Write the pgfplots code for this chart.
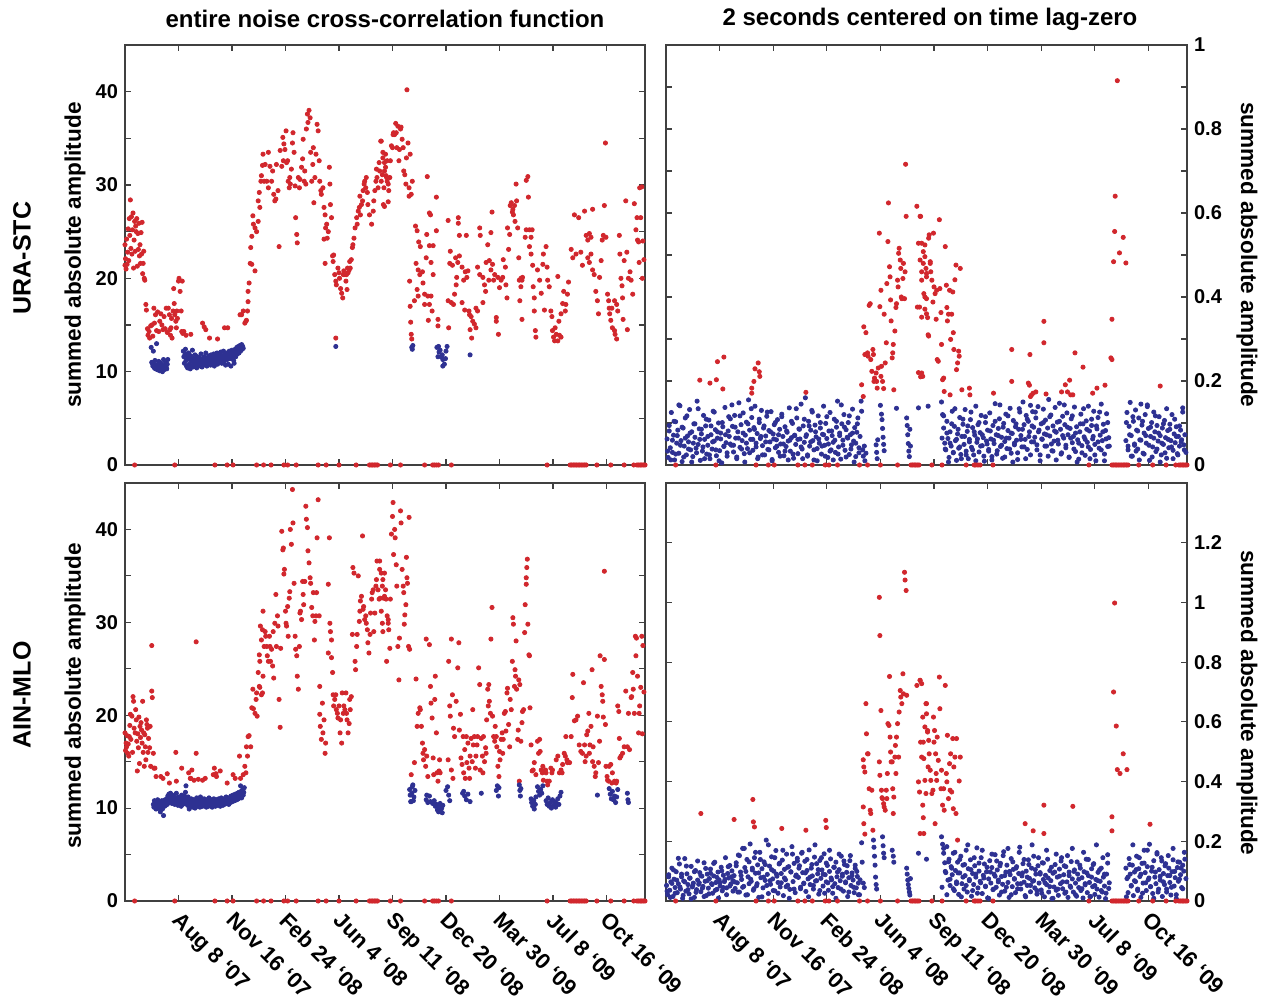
\documentclass[border=0pt]{standalone}
\usepackage{fontspec}
\setmainfont{Liberation Sans}
\usepackage{pgfplots}
\usepackage{pgfplotstable}
\pgfplotsset{compat=1.18}
\definecolor{ptred}{HTML}{D1272D}
\definecolor{ptblue}{HTML}{2E3192}
\definecolor{axgray}{HTML}{404040}
\pgfplotsset{
 panel/.style={scale only axis,anchor=south west,xmin=-100,xmax=872,
  xtick={0,100,...,800},xticklabels={},tick align=inside,xtick pos=both,ytick pos=both,
  major tick length=3pt,axis line style={line width=0.8pt,axgray},
  every tick/.style={line width=0.6pt,axgray},
  tick label style={font=\fontsize{10}{12}\selectfont\bfseries}},
 redpts/.style={only marks,mark=*,mark size=1.05pt,mark options={draw=none,fill=ptred},ptred},
 bluepts/.style={only marks,mark=*,mark size=1.05pt,mark options={draw=none,fill=ptblue},ptblue},
 dates/.style={xticklabels={Aug 8 `07,Nov 16 `07,Feb 24 `08,Jun 4 `08,Sep 11 `08,Dec 20 `08,Mar 30 `09,Jul 8 `09,Oct 16 `09},
  xticklabel style={rotate=-45,anchor=north west,xshift=1.5pt,yshift=1.5pt,font=\fontsize{11}{13}\selectfont\bfseries}},
 leftY/.style={ymin=0,ymax=45,ytick={0,5,...,40},yticklabels={0,,10,,20,,30,,40}}
}
% days with no signal (plotted at zero in every panel)
\pgfplotstableread{
d v
-82 0
-7 0
68 0
91 0
102 0
146 0
159 0
173 0
197 0
204 0
220 0
261 0
276 0
300 0
332 0
357 0
360 0
363 0
366 0
369 0
372 0
396 0
415 0
460 0
475 0
478 0
482 0
486 0
510 0
689 0
732 0
735 0
738 0
741 0
744 0
747 0
750 0
753 0
756 0
759 0
762 0
782 0
808 0
833 0
851 0
857 0
860 0
863 0
866 0
869 0
872 0
}\zerotab

\begin{document}
\begin{tikzpicture}
\path[use as bounding box] (0,0) rectangle (633pt,501pt);

% ---------- top left: URA-STC, entire function
\begin{axis}[panel,leftY,at={(62.5pt,268.5pt)},width=260pt,height=210pt]
\addplot[redpts] coordinates {(-100,23.6)(-100,21.4)(-99,22.1)(-98,21.0)(-97,24.2)(-96,21.5)(-95,22.8)(-94,25.3)(-93,21.9)(-92,26.4)(-91,24.6)(-90,28.4)(-89,23.2)(-88,26.6)(-87,22.6)(-86,25.2)(-85,27.0)(-84,21.1)(-83,24.1)(-82,26.1)(-81,22.9)(-80,25.6)(-79,25.0)(-78,26.4)(-77,21.3)(-76,24.8)(-75,23.1)(-74,25.9)(-73,22.4)(-72,23.6)(-71,21.6)(-70,24.9)(-69,22.6)(-68,26.0)(-67,20.5)(-66,21.6)(-65,22.9)(-64,20.0)(-63,19.8)(-61,17.2)(-60,16.6)(-58,14.6)(-57,13.9)(-55,14.3)(-54,13.6)(-52,14.9)(-50,15.0)(-48,13.8)(-46,16.8)(-45,15.2)(-43,16.1)(-41,14.4)(-39,16.4)(-37,14.3)(-35,15.4)(-33,16.2)(-31,15.0)(-29,14.5)(-27,15.9)(-25,14.6)(-23,16.8)(-21,14.2)(-19,16.8)(-17,16.1)(-16,14.5)(-15,13.9)(-14,14.7)(-13,15.7)(-12,13.6)(-10,16.5)(-9,18.9)(-8,17.3)(-7,16.1)(-5,15.4)(-4,14.7)(-3,16.5)(-2,15.7)(0,19.7)(1,20.0)(3,18.6)(5,16.5)(6,14.3)(7,19.7)(8,14.1)(10,14.3)(14,13.9)(23,14.0)(45,15.2)(48,14.8)(51,14.5)(58,13.6)(73,13.5)(86,14.7)(92,14.7)(115,16.1)(118,16.1)(121,16.5)(124,15.2)(126,15.4)(127,15.5)(129,16.5)(130,17.5)
(130,18.6)(132,19.5)(134,21.6)(137,21.5)(143,20.8)(135,23.3)(137,24.5)(139,26.7)(140,25.8)(143,25.4)(146,25.0)(149,26.1)(152,27.6)(151,29.2)(149,28.3)(154,30.4)(155,31.0)(157,32.1)(158,33.3)(160,30.4)
(162,32.2)(165,30.4)(168,29.7)(168,33.5)(171,32.0)(174,30.4)(176,31.5)(178,29.0)(180,28.3)(182,28.5)(183,32.2)(186,29.4)(188,23.4)(190,33.7)(193,32.0)(196,32.6)(199,33.8)(202,32.4)(204,32.6)(195,35.1)(197,34.4)(201,35.8)(205,30.4)(207,29.7)(208,30.8)(209,30.1)(211,31.7)(213,34.5)(214,35.6)(216,33.5)(218,29.9)(219,26.5)(221,24.7)(222,23.8)(224,30.8)(226,29.7)(227,30.6)(230,31.9)(232,32.8)(233,34.9)(235,30.4)(236,31.5)(238,30.1)(239,36.0)(241,37.6)(242,36.7)(244,38.0)(246,37.2)(247,33.5)(249,30.4)(251,32.2)(252,34.0)(253,28.1)(255,30.8)(257,33.3)(259,36.5)(261,35.8)(263,32.6)(264,30.4)(266,29.4)
(267,29.0)(270,29.7)(272,27.6)(274,26.8)(275,25.4)(277,25.8)(278,24.3)(280,25.0)(282,31.9)(283,30.1)(284,27.9)(286,26.5)(288,22.4)(272,24.2)(274,21.6)(289,21.8)(290,22.5)(292,20.4)(294,19.7)(295,19.3)(294,13.6)
(298,21.1)(300,20.6)(301,20.0)(303,18.9)(305,18.4)(307,17.9)(308,20.4)(309,20.8)(311,20.4)(313,19.7)(314,20.4)(316,21.1)(317,20.6)(319,20.9)(320,21.8)(315,18.8)(321,21.1)(323,22.0)(325,23.3)
(326,23.6)(328,24.3)(330,25.4)(333,26.5)(334,25.8)(336,27.2)(338,27.6)(339,28.8)(340,26.8)(342,27.9)(344,28.3)(345,29.4)(347,30.1)(348,30.4)(350,29.7)(351,30.8)(353,29.2)(354,27.9)(357,26.8)(361,25.8)(364,27.2)(365,28.3)(367,29.4)(369,30.4)(370,31.7)(371,30.8)(373,29.7)(375,32.4)(376,31.5)(378,34.7)(379,30.4)(381,31.1)(382,32.9)(384,29.7)(385,31.5)(387,33.3)(389,30.8)(390,32.6)
(379,34.7)(382,33.5)(385,32.4)(387,31.9)(388,31.0)(390,30.4)(392,30.1)(383,27.9)(385,27.7)(392,28.2)(393,29.4)(395,30.8)(396,32.6)(398,34.2)(400,34.0)(401,35.4)(402,35.6)(404,35.4)(406,36.6)(407,35.6)(408,34.0)(410,36.3)(412,32.6)(413,33.8)(415,36.0)(416,36.2)(418,34.9)(420,34.0)(421,31.5)(423,31.1)(425,30.1)(426,32.9)(427,40.2)(429,34.5)(431,29.7)(431,28.8)(433,33.3)(435,29.0)(437,30.4)
(432,19.7)(433,17.0)(434,15.3)(435,14.0)(436,13.5)
(443,25.6)(446,25.1)(449,23.9)(452,23.4)(444,21.6)(448,20.9)(456,20.7)(451,20.4)(446,18.8)(448,18.1)(457,19.5)(441,17.6)
(465,30.9)(469,27.0)(471,26.8)(464,24.7)(469,23.5)(476,23.5)(463,22.2)(472,21.7)(476,20.4)(460,18.3)(466,18.1)(472,18.1)(460,17.2)(469,17.2)(474,16.5)(482,28.7)(482,25.1)(485,15.6)(485,14.9)(467,15.5)
(504,26.2)(523,26.5)(523,25.9)(508,22.9)(525,24.6)(507,21.6)(512,21.4)(518,22.2)(522,21.7)(525,22.4)(504,17.6)(510,17.4)(516,18.3)(519,19.3)(520,20.1)(514,17.2)(505,14.7)(538,24.6)(530,21.2)(533,19.8)(536,20.7)(530,17.4)(535,16.6)(541,20.8)(539,20.1)(543,16.5)(544,16.1)(547,15.9)(550,15.4)(545,14.5)(553,15.1)(548,13.6)(556,16.8)(556,14.7)(559,16.5)
(563,25.4)(564,24.6)(559,21.2)(563,20.4)(569,20.1)(572,19.3)(574,18.6)(569,17.4)(575,21.7)(578,23.6)(581,21.9)(584,24.9)(586,27.1)(580,19.8)(584,20.9)(587,21.5)(591,20.4)(589,19.8)(594,15.4)(594,15.8)(597,20.1)(598,14.0)(600,19.0)(603,19.8)(606,20.1)(607,22.0)(611,21.2)(612,19.3)(614,17.9)(615,25.4)(617,23.1)(619,24.7)(620,27.8)(622,28.1)(624,27.1)(625,27.4)(626,26.8)(628,27.8)(629,26.1)(631,30.1)(632,28.3)(634,25.4)(636,22.2)(637,19.8)(638,17.6)(640,20.0)(642,15.6)
(650,30.5)(653,30.9)(654,28.7)(648,24.4)(650,25.2)(656,25.2)(659,24.4)(656,23.4)(659,22.6)(661,25.2)(643,20.1)(642,19.8)(640,19.1)(662,21.4)(663,19.1)(665,17.9)(665,16.5)(667,14.4)(668,13.7)(671,20.9)(675,19.8)(678,18.4)(681,21.5)(682,22.6)(684,16.6)(687,23.4)(689,21.2)(690,19.8)(693,19.1)
(696,16.5)(698,15.9)(699,14.4)(701,13.7)(703,13.3)(704,14.7)(706,14.0)(709,13.3)(711,15.4)(712,13.9)(715,13.7)(709,20.2)(715,16.2)(718,17.3)(720,18.6)(723,16.5)(724,17.2)(727,18.3)(729,19.6)
(734,23.1)(737,22.2)(740,26.8)(743,22.6)(748,26.5)(752,22.8)(755,21.4)(759,27.2)(762,24.6)
(765,24.1)(768,24.8)(771,24.4)(774,27.4)(771,22.6)(765,22.2)(768,21.7)(774,20.9)(777,20.4)(780,18.6)(783,17.6)(785,16.2)(787,20.1)(790,21.9)(792,24.1)(794,24.6)(796,27.8)(798,34.5)(799,24.4)(802,18.3)(804,17.6)(805,16.8)(806,16.2)(808,15.5)(811,14.7)(815,14.4)(816,14.0)(819,13.5)(810,16.8)(815,17.6)(819,17.2)(821,16.5)(824,24.6)(825,22.6)(827,20.0)(829,19.2)(830,17.9)(831,15.6)(833,21.9)(836,28.3)(838,22.8)(839,14.5)(841,20.0)(844,20.7)(846,19.8)(849,18.3)(852,28.0)(855,25.2)(857,26.5)(858,24.1)(860,23.9)(861,21.7)(862,29.7)(866,29.8)(868,24.0)(870,22.0)(864,26.5)(867,20.0)};
\addplot[bluepts] coordinates {(-51,12.6)(-50,11.0)(-49,10.9)(-48,10.6)(-47,12.2)(-46,10.8)(-45,10.4)(-44,11.2)(-43,10.3)(-42,10.7)(-41,13.0)(-40,10.5)(-39,10.2)(-38,10.8)(-37,11.1)(-36,10.4)(-35,10.1)(-34,10.6)(-33,10.9)(-32,10.3)(-31,10.5)(-30,10.0)(-29,10.7)(-28,11.3)(-27,10.2)(-26,10.6)(-25,10.4)(-24,11.0)(-23,10.5)(-22,10.3)(-21,10.8)(-20,11.3)
(9,12.2)(10,11.6)(11,10.9)(12,11.8)(13,12.4)(14,11.2)(15,10.6)(16,11.9)(17,10.4)(18,11.5)(19,12.0)(20,10.8)(21,11.3)(22,10.3)(23,11.7)(24,10.6)(25,11.1)(26,12.3)(27,10.5)(28,11.4)(29,10.9)(30,11.0)(31,11.8)(32,10.7)(33,11.2)(34,10.4)(35,11.6)(36,10.9)(37,11.3)(38,10.6)(39,11.5)(40,11.0)(41,10.8)(42,11.9)(43,11.2)(44,10.5)(45,11.4)(46,11.1)(47,10.7)(48,11.6)(49,11.3)(50,10.9)(51,12.0)(52,11.1)(53,10.6)(54,11.5)(55,11.2)(56,10.8)(57,11.7)(58,11.0)(59,11.4)(60,10.7)(61,11.8)(62,11.2)(63,10.9)(64,11.5)(65,11.1)(66,11.9)(67,10.6)(68,11.4)(69,11.7)(70,11.0)(71,11.3)(72,12.0)(73,10.8)(74,11.6)(75,11.2)(76,11.9)(77,11.0)(78,11.5)(79,12.1)(80,11.3)(81,10.9)(82,11.7)(83,11.4)(84,12.2)(85,11.1)(86,11.6)(87,11.9)(88,10.7)(89,11.5)(90,12.0)(91,11.3)(92,11.8)(93,10.8)(94,11.6)(95,12.2)(96,11.4)(97,11.9)(98,10.6)(99,11.7)(100,12.3)(101,11.5)(102,12.0)(103,11.2)(104,10.9)(105,11.8)(106,12.4)(107,11.6)(108,12.1)(109,12.6)(110,11.9)(111,12.3)(112,12.7)(113,12.0)(114,12.5)(115,12.8)(116,12.2)(117,12.6)(118,12.9)(119,12.4)(120,12.7)(121,12.5)
(294,12.7)(436,12.6)(437,12.4)(438,12.8)
(483,12.6)(486,12.7)(487,12.1)(491,11.6)(494,11.3)(497,10.8)(494,10.6)(485,11.6)(500,12.2)(502,12.7)(499,11.4)(493,11.8)(489,12.3)(545,11.8)};
\addplot[redpts] table[x=d,y=v] {\zerotab};
\end{axis}

% ---------- top right: URA-STC, 2 s around lag zero
\begin{axis}[panel,at={(333pt,268.5pt)},width=260.5pt,height=210pt,ymin=0,ymax=1,
 ytick={0,0.1,0.2,0.3,0.4,0.5,0.6,0.7,0.8,0.9,1},yticklabels={0,,0.2,,0.4,,0.6,,0.8,,1},yticklabel pos=right]
\addplot[bluepts] coordinates {(-98,0.062)(-96,0.018)(-94,0.094)(-92,0.041)(-90,0.125)(-88,0.030)(-86,0.071)(-84,0.012)(-82,0.103)(-80,0.052)(-78,0.083)(-76,0.028)(-74,0.141)(-72,0.058)(-70,0.008)(-68,0.088)(-66,0.045)(-64,0.112)(-62,0.024)(-60,0.069)(-58,0.055)(-56,0.132)(-54,0.036)(-52,0.079)(-50,0.020)(-48,0.098)(-46,0.066)(-44,0.040)(-42,0.152)(-40,0.049)(-38,0.086)(-36,0.011)(-34,0.074)(-32,0.033)(-30,0.118)(-28,0.061)(-26,0.093)(-24,0.026)(-22,0.047)(-20,0.107)(-18,0.015)(-16,0.072)(-14,0.038)(-12,0.128)(-10,0.057)(-8,0.084)(-6,0.022)(-4,0.064)(-2,0.100)(0,0.034)(2,0.076)(4,0.005)(6,0.091)(8,0.044)(10,0.137)(12,0.053)(14,0.029)(16,0.081)(18,0.068)(20,0.110)
(22,0.047)(24,0.092)(26,0.031)(28,0.118)(30,0.064)(32,0.015)(34,0.079)(36,0.148)(38,0.042)(40,0.096)(42,0.058)(44,0.124)(46,0.027)(48,0.071)(50,0.102)(52,0.039)(54,0.155)(56,0.083)(58,0.061)(60,0.113)(62,0.035)(64,0.089)(66,0.140)(68,0.052)(70,0.075)(72,0.019)(74,0.101)(76,0.063)(78,0.130)(80,0.046)(82,0.088)(84,0.024)(86,0.069)(88,0.116)(90,0.037)(92,0.082)(94,0.055)(96,0.127)(98,0.013)(100,0.074)(102,0.096)(104,0.041)(106,0.060)(108,0.108)(110,0.030)(112,0.085)(114,0.050)(116,0.121)(118,0.068)(120,0.022)(122,0.091)(124,0.044)(126,0.078)(128,0.057)(130,0.136)(132,0.033)(134,0.065)(136,0.099)(138,0.016)(140,0.071)
(142,0.049)(144,0.112)(146,0.027)(148,0.086)(150,0.062)(152,0.145)(154,0.038)(156,0.093)(158,0.054)(160,0.160)(162,0.072)(164,0.021)(166,0.104)(168,0.045)(170,0.083)(172,0.130)(174,0.058)(176,0.012)(178,0.095)(180,0.067)(182,0.039)(184,0.117)(186,0.052)(188,0.088)(190,0.026)(192,0.073)(194,0.140)(196,0.047)(198,0.099)(200,0.063)(202,0.018)(204,0.081)(206,0.125)(208,0.036)(210,0.070)(212,0.054)(214,0.109)(216,0.030)(218,0.090)(220,0.152)(222,0.043)(224,0.076)(226,0.014)(228,0.098)(230,0.059)(232,0.120)(234,0.035)(236,0.084)(238,0.066)(240,0.101)(242,0.025)(244,0.072)(246,0.048)(248,0.133)(250,0.057)(252,0.089)(254,0.020)(256,0.078)(258,0.112)(260,0.041)(262,0.068)
(264,0.152)(265,0.128)(267,0.036)(268,0.021)(270,0.045)(271,0.010)(273,0.028)(292,0.048)(293,0.030)(294,0.015)(295,0.060)(300,0.142)(302,0.121)(303,0.108)(304,0.087)(305,0.066)(306,0.049)(307,0.034)(330,0.135)(349,0.112)(350,0.094)(351,0.072)(352,0.051)(353,0.033)(354,0.020)(355,0.085)(356,0.045)(371,0.136)(389,0.140)
(414,0.150)(416,0.120)(418,0.088)(420,0.052)(422,0.036)(424,0.104)(426,0.063)(428,0.018)(430,0.079)(432,0.045)(434,0.128)(436,0.030)(438,0.092)(440,0.058)(442,0.011)(444,0.074)(446,0.040)(448,0.113)(450,0.025)(452,0.068)(454,0.097)(456,0.049)(458,0.132)(460,0.033)(462,0.080)(464,0.015)(466,0.061)(468,0.108)(470,0.042)(472,0.089)(474,0.024)(476,0.071)(478,0.140)(480,0.054)(482,0.096)(484,0.031)(486,0.077)(488,0.118)(490,0.046)(492,0.065)(494,0.009)(496,0.101)(498,0.057)(500,0.083)(502,0.037)(504,0.124)(506,0.062)(508,0.020)(510,0.094)(512,0.051)(514,0.146)(516,0.072)(518,0.034)(520,0.087)(522,0.110)(524,0.044)(526,0.066)(528,0.016)(530,0.099)(532,0.056)(534,0.121)(536,0.039)(538,0.082)(540,0.064)(542,0.135)(544,0.028)(546,0.075)(548,0.106)(550,0.048)(552,0.091)(554,0.059)(556,0.013)(558,0.085)(560,0.126)(562,0.070)(564,0.043)(566,0.150)(568,0.096)(570,0.061)(572,0.118)(574,0.037)(576,0.104)(578,0.079)(580,0.142)(582,0.055)(584,0.127)(586,0.090)(588,0.066)(590,0.112)(592,0.048)(594,0.139)(596,0.083)(598,0.024)(600,0.098)(602,0.061)(604,0.133)(606,0.074)(608,0.107)(610,0.045)(612,0.088)(614,0.156)(616,0.069)(618,0.119)(620,0.034)(622,0.093)(624,0.057)(626,0.137)(628,0.078)(630,0.102)(632,0.050)(634,0.147)(636,0.085)(638,0.029)(640,0.116)(642,0.064)(644,0.096)(646,0.041)(648,0.124)(650,0.072)(652,0.018)(654,0.087)(656,0.110)(658,0.053)(660,0.068)(662,0.138)(664,0.032)(666,0.091)(668,0.060)(670,0.014)(672,0.079)(674,0.121)(676,0.046)(678,0.098)(680,0.067)(682,0.023)(684,0.105)(686,0.054)(688,0.140)(690,0.081)(692,0.037)(694,0.094)(696,0.062)(698,0.128)(700,0.049)(702,0.010)(704,0.086)(706,0.113)(708,0.040)(710,0.071)(712,0.145)(714,0.058)(716,0.097)(718,0.026)(720,0.082)(722,0.122)(724,0.044)(726,0.065)
(758,0.058)(760,0.125)(762,0.036)(764,0.092)(766,0.149)(768,0.070)(770,0.021)(772,0.104)(774,0.047)(776,0.131)(778,0.083)(780,0.038)(782,0.112)(784,0.060)(786,0.145)(788,0.095)(790,0.028)(792,0.076)(794,0.120)(796,0.052)(798,0.139)(800,0.087)(802,0.011)(804,0.068)(806,0.101)(808,0.043)(810,0.126)(812,0.079)(814,0.032)(816,0.094)(818,0.057)(820,0.115)(822,0.070)(824,0.024)(826,0.088)(828,0.049)(830,0.106)(832,0.065)(834,0.016)(836,0.082)(838,0.041)(840,0.097)(842,0.058)(844,0.120)(846,0.035)(848,0.074)(850,0.053)(852,0.091)(854,0.027)(856,0.068)(858,0.045)(860,0.083)(862,0.060)(864,0.136)(866,0.048)(868,0.072)(870,0.030)};
\addplot[bluepts] coordinates {(-97,0.033)(-94,0.081)(-91,0.012)(-88,0.059)(-85,0.104)(-82,0.026)(-79,0.070)(-76,0.143)(-73,0.047)(-70,0.090)(-67,0.019)(-64,0.064)(-61,0.117)(-58,0.038)(-55,0.076)(-52,0.007)(-49,0.052)(-46,0.098)(-43,0.029)(-40,0.134)(-37,0.061)(-34,0.085)(-31,0.043)(-28,0.015)(-25,0.109)(-22,0.068)(-19,0.024)(-16,0.093)(-13,0.055)(-10,0.126)(-7,0.036)(-4,0.079)(-1,0.010)(2,0.062)(5,0.101)(8,0.045)(11,0.072)(14,0.021)(17,0.115)(20,0.050)
(23,0.143)(26,0.047)(29,0.090)(32,0.019)(35,0.064)(38,0.117)(41,0.038)(44,0.076)(47,0.007)(50,0.052)(53,0.098)(56,0.029)(59,0.134)(62,0.061)(65,0.085)(68,0.043)(71,0.015)(74,0.109)(77,0.068)(80,0.024)(83,0.093)(86,0.055)(89,0.126)(92,0.036)(95,0.079)(98,0.010)(101,0.062)(104,0.101)(107,0.045)(110,0.072)(113,0.021)(116,0.115)(119,0.050)(122,0.033)(125,0.081)(128,0.012)(131,0.059)(134,0.104)(137,0.026)(140,0.070)
(143,0.134)(146,0.061)(149,0.085)(152,0.043)(155,0.015)(158,0.109)(161,0.068)(164,0.024)(167,0.093)(170,0.055)(173,0.126)(176,0.036)(179,0.079)(182,0.010)(185,0.062)(188,0.101)(191,0.045)(194,0.072)(197,0.021)(200,0.115)(203,0.050)(206,0.033)(209,0.081)(212,0.012)(215,0.059)(218,0.104)(221,0.026)(224,0.070)(227,0.143)(230,0.047)(233,0.090)(236,0.019)(239,0.064)(242,0.117)(245,0.038)(248,0.076)(251,0.007)(254,0.052)(257,0.098)(260,0.029)
(415,0.064)(418,0.117)(421,0.038)(424,0.076)(427,0.007)(430,0.052)(433,0.098)(436,0.029)(439,0.134)(442,0.061)(445,0.085)(448,0.043)(451,0.015)(454,0.109)(457,0.068)(460,0.024)(463,0.093)(466,0.055)(469,0.126)(472,0.036)(475,0.079)(478,0.010)(481,0.062)(484,0.101)(487,0.045)(490,0.072)(493,0.021)(496,0.115)(499,0.050)(502,0.033)(505,0.081)(508,0.012)(511,0.059)(514,0.104)(517,0.026)(520,0.070)(523,0.143)(526,0.047)(529,0.090)(532,0.019)(535,0.064)(538,0.117)(541,0.038)(544,0.076)(547,0.007)(550,0.052)(553,0.098)(556,0.029)(559,0.134)(562,0.061)(565,0.085)(568,0.043)(571,0.015)(574,0.109)(577,0.068)(580,0.024)(583,0.093)(586,0.055)(589,0.126)(592,0.036)(595,0.079)(598,0.010)(601,0.062)(604,0.101)(607,0.045)(610,0.072)(613,0.021)(616,0.115)(619,0.050)(622,0.033)(625,0.081)(628,0.012)(631,0.059)(634,0.104)(637,0.026)(640,0.070)(643,0.143)(646,0.047)(649,0.090)(652,0.019)(655,0.064)(658,0.117)(661,0.038)(664,0.076)(667,0.007)(670,0.052)(673,0.098)(676,0.029)(679,0.134)(682,0.061)(685,0.085)(688,0.043)(691,0.015)(694,0.109)(697,0.068)(700,0.024)(703,0.093)(706,0.055)(709,0.126)(712,0.036)(715,0.079)(718,0.010)(721,0.062)(724,0.101)(727,0.045)
(759,0.101)(762,0.045)(765,0.072)(768,0.021)(771,0.115)(774,0.050)(777,0.033)(780,0.081)(783,0.012)(786,0.059)(789,0.104)(792,0.026)(795,0.070)(798,0.143)(801,0.047)(804,0.090)(807,0.019)(810,0.064)(813,0.117)(816,0.038)(819,0.076)(822,0.007)(825,0.052)(828,0.098)(831,0.029)(834,0.134)(837,0.061)(840,0.085)(843,0.043)(846,0.015)(849,0.109)(852,0.068)(855,0.024)(858,0.093)(861,0.055)(864,0.126)(867,0.036)};
\addplot[redpts] coordinates {(-37,0.202)(-18,0.195)(-6,0.203)(-4,0.246)(8,0.257)(6,0.181)(66,0.229)(64,0.199)(60,0.183)(60,0.171)(72,0.243)(74,0.222)(75,0.211)(161,0.173)
(265,0.191)(268,0.163)(269,0.329)(271,0.263)(273,0.315)(276,0.267)(277,0.259)(279,0.380)(281,0.384)(282,0.251)(284,0.223)(286,0.275)(287,0.263)(288,0.199)(289,0.207)(292,0.219)(293,0.199)(294,0.183)(296,0.231)(298,0.552)(299,0.377)(301,0.416)(301,0.211)(302,0.235)(304,0.199)(306,0.182)(307,0.359)(309,0.243)(311,0.291)(312,0.432)(314,0.532)(315,0.624)(317,0.472)(318,0.448)(319,0.393)(320,0.343)(322,0.255)(323,0.267)(324,0.287)(325,0.179)(327,0.319)(329,0.375)(330,0.384)(332,0.440)(333,0.424)(334,0.504)(335,0.516)(337,0.488)(338,0.468)(339,0.400)(340,0.396)(342,0.444)(343,0.480)(345,0.396)(346,0.460)(348,0.592)(347,0.716)
(368,0.616)(375,0.592)(371,0.528)(383,0.524)(374,0.488)(377,0.460)(386,0.456)(380,0.480)(369,0.376)(373,0.376)(377,0.352)(383,0.400)(386,0.360)(389,0.310)(393,0.480)(371,0.220)(375,0.210)
(374,0.592)(377,0.528)(380,0.508)(383,0.496)(385,0.468)(386,0.448)(377,0.440)(381,0.408)(383,0.371)(386,0.396)(388,0.351)(390,0.307)(390,0.540)(391,0.548)(393,0.484)(394,0.460)(396,0.440)(398,0.388)(399,0.552)(400,0.424)(402,0.408)(404,0.347)(405,0.416)(406,0.251)(408,0.247)(410,0.584)(411,0.420)(413,0.363)(414,0.287)(416,0.203)(418,0.207)(419,0.175)(421,0.520)(423,0.428)(424,0.375)(425,0.343)(427,0.359)(429,0.416)(430,0.167)(431,0.299)(433,0.359)(435,0.412)(436,0.315)(437,0.275)(439,0.441)(441,0.476)(442,0.227)(444,0.243)(446,0.271)(447,0.259)(449,0.468)(377,0.219)(379,0.211)(452,0.179)
(467,0.167)(466,0.183)(511,0.171)(545,0.275)(545,0.199)(576,0.195)(578,0.190)(579,0.263)(580,0.163)(582,0.167)(585,0.171)(590,0.174)(605,0.342)(605,0.291)(609,0.169)(638,0.174)(645,0.191)(649,0.174)(653,0.202)(655,0.167)(659,0.167)(663,0.267)(678,0.233)(696,0.171)(704,0.183)(719,0.190)(730,0.255)(732,0.251)(732,0.347)(735,0.484)(737,0.556)(738,0.640)(746,0.505)(753,0.542)(758,0.481)(742,0.915)(822,0.188)};
\addplot[redpts] table[x=d,y=v] {\zerotab};
\end{axis}

% ---------- bottom left: AIN-MLO, entire function
\begin{axis}[panel,leftY,dates,at={(62.5pt,50.5pt)},width=260pt,height=209pt]
\addplot[redpts] coordinates {(-100,18.1)(-98,17.0)(-97,16.6)(-95,15.9)(-93,15.6)(-92,17.7)(-90,20.1)(-87,19.9)(-85,22.0)(-84,21.5)(-83,18.6)(-81,18.1)(-79,19.5)(-78,17.2)(-77,14.0)(-75,16.5)(-73,14.8)(-72,18.8)(-70,19.2)(-69,18.4)(-67,21.5)(-65,18.1)(-64,14.5)(-62,16.6)(-60,19.5)(-59,19.0)(-58,18.6)(-56,17.5)(-54,16.5)(-53,18.8)(-52,14.5)(-50,22.6)(-50,27.5)(-49,21.9)(-47,15.9)(-46,14.3)(-44,14.3)(-99,16.2)(-96,17.8)(-94,16.9)(-91,18.9)(-89,17.4)(-86,16.0)(-80,20.6)(-76,18.0)(-74,19.8)(-71,17.6)(-68,17.0)(-66,16.0)(-63,17.9)(-61,15.2)(-57,16.0)
(-42,13.4)(-33,13.4)(-29,13.2)(-21,13.7)(-17,12.7)(-4,12.9)(-5,16.0)(6,14.3)(19,13.8)(22,13.2)(25,14.1)(23,13.2)(29,13.0)(33,27.9)(33,15.9)(37,13.1)(45,13.0)(50,13.2)(65,13.6)(67,14.3)(70,13.7)(71,13.4)(78,14.0)(91,12.7)(102,13.6)(106,13.2)(114,15.6)(116,13.2)(121,13.6)(124,14.5)(126,13.8)(127,16.6)(129,15.6)(130,17.7)
(132,17.8)(135,16.6)(137,20.8)(139,22.8)(140,20.7)(143,20.2)(145,21.7)(146,22.4)(147,19.9)(149,24.6)(151,23.1)(152,23.0)(155,22.2)(157,22.4)(158,24.2)
(151,26.5)(152,25.8)(153,29.6)(155,28.1)(157,29.2)(158,31.2)(160,27.4)(162,29.0)(163,28.5)(165,27.4)(166,26.4)(168,25.8)(170,28.5)(171,27.4)(172,25.8)(174,27.1)(176,25.3)(177,29.0)(178,24.0)(180,29.9)(182,33.0)(183,27.4)(185,30.7)(186,29.6)(188,21.7)(190,18.7)(191,27.2)(193,39.8)(195,37.8)(196,38.0)(197,35.2)(198,35.7)(200,31.2)(201,29.9)(202,29.6)
(204,31.7)(205,28.5)(207,32.6)(208,33.3)(209,40.0)(211,38.4)(213,44.3)(214,40.7)(216,34.2)(218,28.5)(219,27.1)(221,26.4)(222,24.2)(224,22.8)(226,27.4)(227,31.0)(228,31.2)(230,30.3)(232,34.4)(233,33.0)(234,31.9)(236,34.4)(238,42.5)(239,41.1)(241,40.2)(242,37.7)(244,36.4)(246,34.8)(247,34.2)(249,31.6)(251,30.7)(252,33.2)(254,28.1)(255,30.1)(257,30.7)(258,33.2)(259,39.1)(261,43.2)(263,30.7)(264,23.1)
(264,20.1)(265,18.8)(267,17.4)(269,21.3)(270,18.1)(272,19.5)(274,15.9)(275,17.0)(280,34.1)(280,26.7)(282,39.1)(283,29.9)(284,29.0)(286,28.1)(286,26.2)(288,24.6)(289,22.2)(290,21.0)(292,21.7)(294,22.2)(295,20.6)(297,20.2)(298,19.7)(300,21.0)(302,18.1)(303,19.5)(305,17.0)(306,22.4)(308,20.2)(309,21.0)(311,20.6)(313,22.4)(314,20.2)(315,19.5)(317,18.1)(319,19.1)(320,21.7)(321,20.6)(323,22.0)(325,28.7)(326,35.9)
(328,35.3)(330,25.8)(331,24.9)(333,27.4)(334,28.7)(336,35.0)(338,30.1)(339,31.2)(340,32.3)(342,32.8)(344,39.3)(345,31.4)(346,31.7)(348,30.3)(350,30.7)(351,29.9)(353,29.2)(354,27.8)(356,26.7)(358,28.7)(359,31.0)(361,32.5)(362,33.2)(364,33.5)(365,29.0)(367,31.0)(369,33.9)(370,34.6)(371,36.6)(373,33.5)(375,32.5)(376,35.7)(377,32.6)(379,31.2)(381,29.9)(382,29.0)(385,32.8)(389,25.8)(392,30.3)
(376,36.6)(379,35.3)(381,33.9)(382,34.6)(383,32.6)(385,35.3)(387,33.5)(388,32.5)(390,30.7)(392,29.9)(393,29.2)(395,27.2)(396,32.5)(398,39.5)(400,41.4)(401,42.9)(402,37.3)(404,40.0)(405,39.1)(407,36.2)(408,33.9)(410,27.4)(412,23.8)(413,28.3)(415,42.0)(416,40.7)(418,35.7)(420,33.9)(421,33.2)(422,29.8)(423,30.8)(425,31.9)(426,37.0)(427,34.8)(428,34.2)(430,27.4)(431,41.3)(432,27.1)
(435,13.6)(441,14.9)(444,23.9)(446,18.8)(448,20.2)(451,20.8)(452,20.6)(454,18.8)(456,17.0)(457,15.9)(458,15.2)(460,16.3)(462,14.5)(463,28.2)(464,15.6)(466,13.4)(469,27.6)(471,23.1)(472,21.3)(474,19.7)(476,15.4)(477,13.6)(479,21.7)(480,24.2)(482,18.1)(483,13.8)(485,12.9)(487,14.0)(488,15.2)(489,13.8)(504,15.2)(505,25.8)(507,21.0)(508,19.9)(510,28.2)(510,14.1)(512,22.2)(513,13.2)(514,18.6)(516,17.7)(519,21.5)(522,25.1)(524,27.8)(525,18.4)(527,20.1)(528,15.4)(530,14.7)(532,17.7)(533,13.8)(535,16.3)(536,13.2)(538,17.7)(539,14.9)(541,17.0)(543,14.3)(544,13.2)(545,15.6)(547,17.5)(549,15.0)(550,20.6)(551,16.8)(553,17.7)(555,14.3)(556,15.6)(558,16.8)(559,17.7)(561,25.1)(563,23.3)(564,14.1)(566,17.5)(568,15.6)(569,13.8)(570,17.7)(572,15.0)(574,16.5)(575,15.9)(576,19.5)(578,22.8)(579,21.0)(580,23.3)(581,21.5)(583,20.2)(584,28.2)(586,31.6)(587,19.9)(589,17.7)(591,17.2)(592,18.8)(594,17.7)(595,16.6)(597,14.5)(599,13.4)(600,16.1)(601,15.2)(603,17.4)(605,18.1)(606,15.9)(607,17.4)(609,20.2)(611,20.4)(612,18.3)(614,22.4)(615,22.9)(617,19.0)(619,16.6)(620,21.7)(622,20.6)(624,25.8)(625,30.5)(626,29.8)(628,23.1)(629,24.9)(630,24.2)(631,28.0)(632,22.8)(634,17.4)(635,18.4)(636,23.8)(637,12.9)(638,23.3)(640,17.2)(642,19.2)(643,20.4)(645,20.6)(647,28.9)(648,31.9)(650,34.8)(650,34.1)(651,35.9)(652,36.8)(653,29.8)(655,26.5)(656,26.4)(657,20.8)(659,16.8)(661,14.0)(663,14.1)(665,14.9)(668,13.6)(671,17.2)(673,15.9)(675,17.4)(676,16.1)(678,14.1)(680,13.8)(681,14.5)(682,13.0)(684,14.0)(686,14.1)(687,13.8)(689,12.9)(690,12.5)(693,12.9)(696,14.3)(698,13.8)(699,14.1)(706,15.2)(709,15.6)(712,13.8)(715,14.1)(717,13.8)(718,14.7)(721,15.9)(723,15.6)(724,17.7)(726,15.2)(727,14.9)(731,14.9)(734,17.7)(736,21.9)(737,24.4)(740,19.4)(743,19.5)(746,19.9)(749,16.8)(752,16.1)(755,15.9)(757,23.5)(759,16.8)(760,15.0)(762,15.6)(763,17.9)(765,18.3)(767,20.2)(768,15.9)(769,16.8)(771,18.8)(773,24.9)(774,15.0)(775,16.6)(777,14.5)(779,13.4)(780,13.8)(783,19.9)(785,14.9)(787,17.2)(788,26.4)(790,23.1)(792,22.2)(793,21.5)(794,19.8)(796,26.0)(796,35.5)(798,19.0)(799,14.5)(801,13.4)(802,13.0)(804,12.9)(805,14.5)(808,14.7)(810,12.7)(811,13.8)(815,12.9)(818,12.7)(819,12.9)(821,21.0)(823,20.4)(824,17.5)(825,15.4)(827,15.6)(830,15.9)(833,16.6)(836,22.6)(839,16.6)(841,20.2)(843,16.3)(846,21.9)(847,22.0)(849,24.6)(850,22.8)(852,20.2)(854,28.5)(855,26.4)(856,28.3)(858,24.2)(860,18.1)(861,20.2)(862,21.0)(866,28.5)(868,27.5)(864,23.0)(870,22.5)(867,18.0)};
\addplot[bluepts] coordinates {(-47,10.4)(-46,10.1)(-45,10.8)(-44,10.3)(-43,10.6)(-42,9.9)(-41,10.5)(-40,10.2)(-39,10.9)(-38,10.4)(-37,10.0)(-36,10.7)(-35,10.3)(-34,9.6)(-33,10.5)(-32,10.1)(-31,10.8)(-30,9.9)(-29,10.4)(-28,9.2)(-27,10.6)(-26,10.2)(-25,10.9)(-24,10.3)(-23,10.7)(-22,11.0)(-21,10.4)(-20,11.3)(-19,10.8)(-18,11.5)(-17,10.6)(-16,11.2)(-15,11.6)(-14,10.9)(-13,11.1)(-12,10.5)(-11,11.4)(-10,11.0)(-9,10.7)(-8,11.3)(-7,10.4)(-6,11.1)(-5,10.8)(-4,11.6)(-3,10.6)(-2,11.0)(-1,10.3)(0,10.9)(1,11.2)(2,10.5)(3,11.0)(4,10.7)(5,10.2)(6,11.4)(7,10.8)(8,10.4)(9,11.1)(10,10.6)(11,11.3)(12,10.9)(13,11.7)(14,12.4)(15,10.5)(16,10.9)(17,10.3)(18,11.2)(19,10.7)(20,9.9)(21,10.5)(22,10.8)(23,10.2)(24,11.0)(25,10.4)(26,10.7)(27,10.1)(28,10.9)(29,10.3)(30,10.6)(31,10.0)(32,10.8)(33,10.4)(34,11.1)(35,10.2)(36,10.5)(37,10.9)(38,10.3)(39,10.7)(40,10.1)(41,11.2)(42,10.6)(43,10.4)(44,10.9)(45,10.2)(46,10.7)(47,10.5)(48,11.0)(49,10.3)(50,10.8)(51,10.6)(52,10.1)(53,10.9)(54,10.4)(55,10.7)(56,10.2)(57,11.1)(58,10.5)(59,10.8)(60,10.3)(61,10.6)(62,10.9)(63,10.1)(64,10.7)(65,10.4)(66,11.0)(67,10.5)(68,10.8)(69,10.2)(70,10.6)(71,10.9)(72,10.3)(73,10.7)(74,10.5)(75,11.0)(76,10.4)(77,10.8)(78,10.2)(79,10.6)(80,11.1)(81,10.5)(82,10.9)(83,10.3)(84,10.7)(85,11.0)(86,10.4)(87,10.8)(88,10.6)(89,11.2)(90,10.5)(91,10.9)(92,10.7)(93,11.1)(94,10.4)(95,10.8)(96,11.0)(97,10.6)(98,11.3)(99,10.9)(100,11.1)(101,10.7)(102,11.4)(103,10.9)(104,11.2)(105,10.8)(106,11.5)(107,11.0)(108,11.3)(109,10.9)(110,11.6)(111,11.2)(112,11.0)(113,11.7)(114,11.3)(115,11.5)(116,12.4)(117,11.8)(118,11.1)(119,11.6)(120,12.0)(121,11.4)(122,11.7)(123,12.2)
(432,12.0)(433,11.4)(434,10.7)(436,11.6)(437,12.3)(438,12.5)(439,10.8)(435,10.7)(440,11.2)(442,11.9)
(463,10.9)(464,11.4)(466,10.6)(469,11.3)(471,10.7)(475,10.5)(478,10.8)(480,10.2)(482,10.4)(484,9.8)(485,10.3)(486,9.6)(487,10.1)(488,9.8)(489,10.5)(490,9.7)(491,10.2)(492,10.0)(493,9.5)(494,10.3)
(500,11.9)(503,12.3)(505,11.4)(507,10.8)(531,11.6)(533,11.8)(535,11.3)(538,10.9)(541,11.5)(545,10.7)(566,11.6)(594,11.9)(596,12.4)(598,11.3)(599,12.2)(637,12.5)(638,11.9)(639,11.3)(640,12.1)
(659,11.0)(660,10.6)(662,10.2)(664,10.8)(665,9.9)(667,10.4)(668,11.2)(671,12.3)(673,11.8)(675,11.4)(677,12.0)(679,11.6)(681,12.4)
(687,10.8)(689,10.4)(691,11.1)(693,10.2)(695,10.6)(697,10.0)(699,10.9)(701,10.3)(703,10.7)(705,10.1)(707,10.5)(709,11.0)(711,10.4)(713,11.3)(715,11.7)(783,11.4)
(805,12.1)(807,11.5)(809,11.0)(811,11.8)(813,10.9)(815,11.3)(817,10.6)(819,11.2)(821,12.0)(839,11.6)(840,10.9)(841,10.6)};
\addplot[redpts] table[x=d,y=v] {\zerotab};
\end{axis}

% ---------- bottom right: AIN-MLO, 2 s around lag zero
\begin{axis}[panel,dates,at={(333pt,50.5pt)},width=260.5pt,height=209pt,ymin=0,ymax=1.4,
 ytick={0,0.2,0.4,0.6,0.8,1,1.2},yticklabels={0,0.2,0.4,0.6,0.8,1,1.2},yticklabel pos=right]
\addplot[bluepts] coordinates {(-99,0.052)(-97,0.021)(-95,0.088)(-93,0.036)(-91,0.064)(-89,0.110)(-87,0.015)(-85,0.073)(-83,0.045)(-81,0.098)(-79,0.028)(-77,0.058)(-75,0.124)(-73,0.040)(-71,0.081)(-69,0.009)(-67,0.067)(-65,0.142)(-63,0.033)(-61,0.091)(-59,0.055)(-57,0.024)(-55,0.077)(-53,0.116)(-51,0.047)(-49,0.060)(-47,0.012)(-45,0.102)(-43,0.038)(-41,0.070)(-39,0.056)(-37,0.095)(-35,0.031)(-33,0.083)(-31,0.049)(-29,0.128)(-27,0.066)(-25,0.018)(-23,0.090)(-21,0.043)(-19,0.075)(-17,0.107)(-15,0.058)(-13,0.026)(-11,0.084)(-9,0.130)(-7,0.062)(-5,0.039)(-3,0.097)(-1,0.071)(1,0.050)(3,0.113)(5,0.034)(7,0.086)(9,0.065)(11,0.145)(13,0.044)(15,0.092)(17,0.077)(19,0.119)(21,0.057)(23,0.101)(25,0.068)
(27,0.085)(29,0.042)(31,0.128)(33,0.061)(35,0.154)(37,0.030)(39,0.097)(41,0.072)(43,0.176)(45,0.049)(47,0.112)(49,0.020)(51,0.139)(53,0.081)(55,0.058)(57,0.191)(59,0.066)(61,0.104)(63,0.036)(65,0.145)(67,0.093)(69,0.051)(71,0.121)(73,0.012)(75,0.163)(77,0.078)(79,0.108)(81,0.044)(83,0.131)(85,0.069)(87,0.204)(89,0.089)(91,0.025)(93,0.117)(95,0.056)(97,0.148)(99,0.074)(101,0.100)(103,0.034)(105,0.169)(107,0.083)(109,0.062)(111,0.124)(113,0.047)(115,0.092)(117,0.137)(119,0.018)(121,0.106)(123,0.071)(125,0.157)(127,0.053)(129,0.115)(131,0.039)(133,0.098)(135,0.182)(137,0.065)(139,0.126)(141,0.028)(143,0.087)(145,0.143)
(147,0.079)(149,0.118)(151,0.046)(153,0.160)(155,0.095)(157,0.060)(159,0.133)(161,0.032)(163,0.102)(165,0.074)(167,0.171)(169,0.055)(171,0.110)(173,0.084)(175,0.040)(177,0.147)(179,0.067)(181,0.125)(183,0.091)(185,0.023)(187,0.136)(189,0.076)(191,0.104)(193,0.050)(195,0.158)(197,0.088)(199,0.064)(201,0.119)(203,0.036)(205,0.099)(207,0.141)(209,0.071)(211,0.026)(213,0.113)(215,0.058)(217,0.130)(219,0.081)(221,0.045)(223,0.105)(225,0.068)(227,0.150)(229,0.090)(231,0.033)(233,0.122)(235,0.061)(237,0.096)(239,0.015)(241,0.078)(243,0.135)(245,0.052)(247,0.094)(249,0.070)(251,0.028)(253,0.109)(255,0.044)(257,0.082)(259,0.060)(261,0.021)
(265,0.195)(266,0.130)(268,0.060)(270,0.045)(287,0.204)(288,0.180)(289,0.150)(290,0.120)(291,0.080)(292,0.055)(293,0.040)(304,0.215)(305,0.185)(306,0.160)(307,0.145)(322,0.170)(324,0.150)(325,0.130)(349,0.110)(350,0.090)(351,0.070)(352,0.055)(353,0.042)(354,0.030)(355,0.020)(356,0.075)(371,0.160)(386,0.140)
(414,0.215)(416,0.190)(418,0.160)(420,0.128)(422,0.095)(424,0.182)(426,0.070)(428,0.140)(430,0.052)(432,0.115)(434,0.088)(436,0.160)(438,0.035)(440,0.102)(442,0.064)(444,0.130)(446,0.022)(448,0.094)(450,0.150)(452,0.058)(454,0.120)(456,0.040)(458,0.085)(460,0.170)(462,0.030)(464,0.108)(466,0.072)(468,0.138)(470,0.016)(472,0.092)(474,0.055)(476,0.118)(478,0.080)(480,0.178)(482,0.044)(484,0.100)(486,0.066)(488,0.145)(490,0.025)(492,0.086)(494,0.124)(496,0.050)(498,0.098)(500,0.010)(502,0.074)(504,0.135)(506,0.060)(508,0.112)(510,0.038)(512,0.090)(514,0.155)(516,0.046)(518,0.104)(520,0.070)(522,0.020)(524,0.126)(526,0.082)(528,0.056)(530,0.165)(532,0.033)(534,0.097)(536,0.120)(538,0.062)(540,0.012)(542,0.088)(544,0.142)(546,0.048)(548,0.106)(550,0.075)(552,0.028)(554,0.115)(556,0.058)(558,0.092)(560,0.180)(562,0.040)(564,0.084)(566,0.125)(568,0.063)(570,0.018)(572,0.100)(574,0.052)(576,0.138)(578,0.076)(580,0.031)(582,0.110)(584,0.066)(586,0.150)(588,0.044)(590,0.090)(592,0.023)(594,0.118)(596,0.060)(598,0.095)(600,0.037)(602,0.128)(604,0.072)(606,0.014)(608,0.086)(610,0.055)(612,0.140)(614,0.030)(616,0.102)(618,0.068)(620,0.008)(622,0.093)(624,0.047)(626,0.122)(628,0.036)(630,0.080)(632,0.019)(634,0.107)(636,0.058)(638,0.145)(640,0.041)(642,0.088)(644,0.026)(646,0.115)(648,0.064)(650,0.012)(652,0.097)(654,0.050)(656,0.132)(658,0.074)(660,0.030)(662,0.104)(664,0.060)(666,0.016)(668,0.090)(670,0.045)(672,0.120)(674,0.035)(676,0.078)(678,0.010)(680,0.098)(682,0.054)(684,0.140)(686,0.028)(688,0.085)(690,0.062)(692,0.015)(694,0.108)(696,0.048)(698,0.125)(700,0.022)(702,0.072)(704,0.040)(706,0.096)(708,0.013)(710,0.066)(712,0.110)(714,0.030)(716,0.080)(718,0.050)(720,0.008)(722,0.090)(724,0.155)(726,0.042)
(758,0.110)(760,0.075)(762,0.028)(764,0.142)(766,0.090)(768,0.050)(770,0.120)(772,0.018)(774,0.097)(776,0.065)(778,0.150)(780,0.040)(782,0.108)(784,0.082)(786,0.012)(788,0.126)(790,0.060)(792,0.170)(794,0.095)(796,0.035)(798,0.115)(800,0.072)(802,0.190)(804,0.048)(806,0.100)(808,0.025)(810,0.135)(812,0.080)(814,0.058)(816,0.162)(818,0.030)(820,0.105)(822,0.070)(824,0.145)(826,0.015)(828,0.092)(830,0.055)(832,0.125)(834,0.040)(836,0.085)(838,0.110)(840,0.062)(842,0.020)(844,0.098)(846,0.138)(848,0.050)(850,0.078)(852,0.008)(854,0.112)(856,0.066)(858,0.130)(860,0.088)(862,0.045)(864,0.120)(866,0.100)(868,0.140)(870,0.075)};
\addplot[bluepts] coordinates {(-98,0.033)(-95,0.081)(-92,0.012)(-89,0.059)(-86,0.104)(-83,0.026)(-80,0.070)(-77,0.143)(-74,0.047)(-71,0.090)(-68,0.019)(-65,0.064)(-62,0.117)(-59,0.038)(-56,0.076)(-53,0.007)(-50,0.052)(-47,0.098)(-44,0.029)(-41,0.134)(-38,0.061)(-35,0.085)(-32,0.043)(-29,0.015)(-26,0.109)(-23,0.068)(-20,0.024)(-17,0.093)(-14,0.055)(-11,0.126)(-8,0.036)(-5,0.079)(-2,0.010)(1,0.062)(4,0.101)(7,0.045)(10,0.072)(13,0.021)(16,0.115)(19,0.050)(22,0.081)(25,0.033)
(28,0.064)(31,0.118)(34,0.030)(37,0.152)(40,0.085)(43,0.046)(46,0.176)(49,0.099)(52,0.021)(55,0.131)(58,0.073)(61,0.110)(64,0.041)(67,0.163)(70,0.058)(73,0.094)(76,0.139)(79,0.014)(82,0.080)(85,0.122)(88,0.052)(91,0.188)(94,0.068)(97,0.105)(100,0.035)(103,0.145)(106,0.090)(109,0.026)(112,0.127)(115,0.061)(118,0.170)(121,0.077)(124,0.048)(127,0.113)(130,0.009)(133,0.097)(136,0.157)(139,0.040)(142,0.083)(145,0.134)
(148,0.110)(151,0.041)(154,0.163)(157,0.058)(160,0.094)(163,0.139)(166,0.014)(169,0.080)(172,0.122)(175,0.052)(178,0.188)(181,0.068)(184,0.105)(187,0.035)(190,0.145)(193,0.090)(196,0.026)(199,0.127)(202,0.061)(205,0.170)(208,0.077)(211,0.048)(214,0.113)(217,0.009)(220,0.097)(223,0.157)(226,0.040)(229,0.083)(232,0.134)(235,0.064)(238,0.118)(241,0.030)(244,0.152)(247,0.085)(250,0.046)(253,0.120)(256,0.099)(259,0.021)(262,0.071)
(415,0.046)(418,0.176)(421,0.099)(424,0.021)(427,0.131)(430,0.073)(433,0.110)(436,0.041)(439,0.163)(442,0.058)(445,0.094)(448,0.139)(451,0.014)(454,0.080)(457,0.122)(460,0.052)(463,0.188)(466,0.068)(469,0.105)(472,0.035)(475,0.145)(478,0.090)(481,0.026)(484,0.127)(487,0.061)(490,0.170)(493,0.077)(496,0.048)(499,0.113)(502,0.009)(505,0.097)(508,0.157)(511,0.040)(514,0.083)(517,0.134)(520,0.064)(523,0.118)(526,0.030)(529,0.152)(532,0.085)(535,0.046)(538,0.176)(541,0.099)(544,0.021)(547,0.131)(550,0.073)(553,0.110)(556,0.041)(559,0.163)(562,0.058)(565,0.094)(568,0.139)(571,0.014)(574,0.080)(577,0.122)(580,0.052)(583,0.188)(586,0.068)(589,0.105)(592,0.035)(595,0.145)(598,0.090)(601,0.026)(604,0.127)(607,0.061)(610,0.170)(613,0.077)(616,0.048)(619,0.113)(622,0.009)(625,0.097)(628,0.157)(631,0.040)(634,0.083)(637,0.134)(640,0.064)(643,0.118)(646,0.030)(649,0.152)(652,0.085)(655,0.046)(658,0.176)(661,0.099)(664,0.021)(667,0.131)(670,0.073)(673,0.110)(676,0.041)(679,0.163)(682,0.058)(685,0.094)(688,0.139)(691,0.014)(694,0.080)(697,0.122)(700,0.052)(703,0.188)(706,0.068)(709,0.105)(712,0.035)(715,0.145)(718,0.090)(721,0.026)(724,0.127)(727,0.061)
(759,0.014)(762,0.080)(765,0.122)(768,0.052)(771,0.188)(774,0.068)(777,0.105)(780,0.035)(783,0.145)(786,0.090)(789,0.026)(792,0.127)(795,0.061)(798,0.170)(801,0.077)(804,0.048)(807,0.113)(810,0.009)(813,0.097)(816,0.157)(819,0.040)(822,0.083)(825,0.134)(828,0.064)(831,0.118)(834,0.030)(837,0.152)(840,0.085)(843,0.046)(846,0.176)(849,0.099)(852,0.021)(855,0.131)(858,0.073)(861,0.110)(864,0.041)(867,0.163)};
\addplot[redpts] coordinates {(-35,0.293)(27,0.273)(62,0.340)(63,0.265)(65,0.248)(116,0.243)(161,0.237)(198,0.270)(199,0.246)
(268,0.315)(269,0.259)(271,0.224)(273,0.661)(274,0.560)(276,0.493)(277,0.493)(279,0.376)(281,0.304)(282,0.293)(284,0.371)(286,0.237)(268,0.473)(269,0.449)(271,0.432)(298,1.017)(299,0.889)(301,0.638)(298,0.466)(299,0.421)(302,0.371)(303,0.346)(304,0.343)(306,0.326)(307,0.315)(309,0.304)(311,0.371)(312,0.343)(313,0.427)(314,0.594)(316,0.588)(317,0.752)(318,0.549)(319,0.499)(320,0.466)(322,0.466)(323,0.376)(324,0.293)(325,0.348)(327,0.482)(328,0.521)(329,0.427)(330,0.549)(332,0.594)(334,0.482)(335,0.633)(337,0.705)(338,0.683)(340,0.661)(342,0.761)(343,0.694)(345,1.101)(346,1.075)(348,1.040)(349,0.689)(368,0.722)(371,0.399)(373,0.365)(374,0.739)(375,0.532)(377,0.482)(379,0.321)(380,0.279)(381,0.226)(383,0.404)(385,0.360)(386,0.661)(388,0.571)(389,0.449)
(374,0.739)(377,0.728)(379,0.616)(380,0.532)(381,0.477)(383,0.583)(385,0.661)(386,0.627)(388,0.566)(390,0.538)(391,0.493)(393,0.438)(394,0.404)(396,0.360)(398,0.371)(399,0.616)(400,0.532)(401,0.571)(403,0.493)(404,0.427)(405,0.404)(406,0.549)(408,0.471)(410,0.750)(411,0.644)(413,0.376)(414,0.438)(416,0.321)(418,0.376)(419,0.304)(421,0.722)(423,0.427)(424,0.399)(425,0.555)(427,0.343)(429,0.460)(430,0.371)(431,0.493)(433,0.365)(435,0.544)(436,0.309)(437,0.449)(439,0.482)(441,0.293)(442,0.544)(444,0.204)(447,0.402)(449,0.482)(402,0.259)(374,0.226)
(570,0.259)(585,0.235)(605,0.321)(605,0.226)(659,0.317)(732,0.282)(732,0.235)(735,0.700)(737,0.998)(740,0.586)(742,0.440)(747,0.427)(753,0.493)(760,0.440)(803,0.257)};
\addplot[redpts] table[x=d,y=v] {\zerotab};
\end{axis}

% ---------- titles and labels
\node[font=\fontsize{12}{14}\selectfont\bfseries] at (192.5pt,491.5pt) {entire noise cross-correlation function};
\node[font=\fontsize{12}{14}\selectfont\bfseries] at (465pt,491.5pt) {2 seconds centered on time lag-zero};
\node[rotate=90,font=\fontsize{12.5}{15}\selectfont\bfseries] at (11pt,372pt) {URA-STC};
\node[rotate=90,font=\fontsize{12.5}{15}\selectfont\bfseries] at (11pt,153.5pt) {AIN-MLO};
\node[rotate=90,font=\fontsize{11.3}{13}\selectfont\bfseries] at (37.5pt,373.5pt) {summed absolute amplitude};
\node[rotate=90,font=\fontsize{11.3}{13}\selectfont\bfseries] at (37.5pt,153pt) {summed absolute amplitude};
\node[rotate=-90,font=\fontsize{11.3}{13}\selectfont\bfseries] at (623.5pt,373.5pt) {summed absolute amplitude};
\node[rotate=-90,font=\fontsize{11.3}{13}\selectfont\bfseries] at (623.5pt,149.5pt) {summed absolute amplitude};
\end{tikzpicture}
\end{document}
